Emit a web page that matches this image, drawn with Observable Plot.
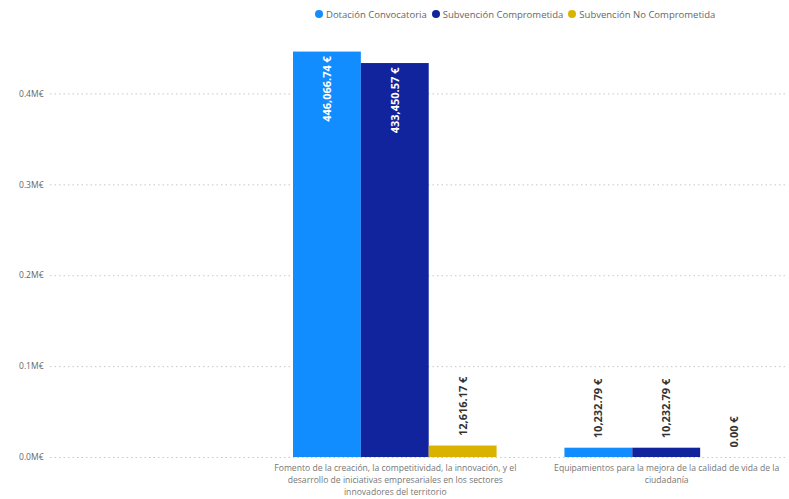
<!DOCTYPE html>
<html>
<head>
<meta charset="utf-8">
<script src="https://cdn.jsdelivr.net/npm/d3@7"></script>
<script src="https://cdn.jsdelivr.net/npm/@observablehq/plot@0.6"></script>
<style>
  html, body { margin: 0; padding: 0; background: #fff; overflow: hidden; }
  body { width: 789px; height: 499px; font-family: "Open Sans", sans-serif; }
  #legend { height: 26px; box-sizing: border-box; padding-left: 315px; padding-top: 2px; display: flex; align-items: center; gap: 5px; font-size: 9.5px; color: #666; white-space: nowrap; }
  #legend .item { display: flex; align-items: center; gap: 3px; }
  #legend .dot { width: 8px; height: 8px; border-radius: 50%; display: inline-block; }
  #chart svg { display: block; }
</style>
</head>
<body>
<div id="legend"></div>
<div id="chart"></div>
<script>
const categories = [
  "Fomento de la creación, la competitividad, la innovación, y el desarrollo de iniciativas empresariales en los sectores innovadores del territorio",
  "Equipamientos para la mejora de la calidad de vida de la ciudadanía"
];
const categoryLabels = [
  "Fomento de la creación, la competitividad, la innovación, y el\ndesarrollo de iniciativas empresariales en los sectores\ninnovadores del territorio",
  "Equipamientos para la mejora de la calidad de vida de la\nciudadanía"
];
const series = ["Dotación Convocatoria", "Subvención Comprometida", "Subvención No Comprometida"];
const seriesColors = ["#118DFF", "#12239E", "#D9B300"];
const dotacionConvocatoria = [446066.74, 10232.79];
const subvencionComprometida = [433450.57, 10232.79];
const subvencionNoComprometida = [12616.17, 0.00];
const yTicks = [0, 100000, 200000, 300000, 400000];

const seriesValues = [dotacionConvocatoria, subvencionComprometida, subvencionNoComprometida];
const data = [];
categories.forEach((c, ci) => {
  series.forEach((s, si) => {
    data.push({category: c, label: categoryLabels[ci], series: s, key: ci + "-" + si, value: seriesValues[si][ci]});
  });
});
const domainKeys = [];
categories.forEach((c, ci) => {
  if (ci > 0) domainKeys.push("gap" + ci);
  series.forEach((s, si) => domainKeys.push(ci + "-" + si));
});
const catData = categories.map((c, ci) => ({key: ci + "-1", label: categoryLabels[ci]}));

const fmt = d3.format(",.2f");
const inside = d => d.value > 100000;

// legend
const legend = document.getElementById("legend");
series.forEach((s, i) => {
  const it = document.createElement("span");
  it.className = "item";
  it.innerHTML = `<span class="dot" style="background:${seriesColors[i]}"></span><span>${s}</span>`;
  legend.appendChild(it);
});

const chart = Plot.plot({
  width: 789,
  height: 473,
  marginLeft: 50,
  marginRight: 4,
  marginTop: 22,
  marginBottom: 42,
  style: {fontFamily: "Open Sans, sans-serif", background: "#fff"},
  x: {type: "band", domain: domainKeys, range: [293, 768], padding: 0, round: false, axis: null},
  y: {domain: [0, 450000], axis: null, label: null},
  color: {domain: series, range: seriesColors},
  marks: [
    Plot.gridY(yTicks, {stroke: "#c8c8c8", strokeOpacity: 1, strokeDasharray: "1.5,3"}),
    Plot.axisY(yTicks, {tickSize: 0, tickPadding: 7, fill: "#666", fontSize: 8.5, label: null, tickFormat: d => (d / 1e6).toFixed(1) + "M€"}),
    Plot.barY(data, {x: "key", y: "value", fill: "series", inset: 0}),
    Plot.text(data.filter(inside), {x: "key", y: "value", text: d => fmt(d.value) + " €", rotate: -90, textAnchor: "end", dy: 4, fill: "white", fontWeight: "bold", fontSize: 11}),
    Plot.text(data.filter(d => !inside(d)), {x: "key", y: "value", text: d => fmt(d.value) + " €", rotate: -90, textAnchor: "start", dy: -10, fill: "#333", fontWeight: "bold", fontSize: 11}),
    Plot.text(catData, {x: "key", y: () => 0, text: "label", lineAnchor: "top", dy: 5, fill: "#777", fontSize: 8.6, lineHeight: 1.4})
  ]
});
document.getElementById("chart").appendChild(chart);
</script>
</body>
</html>
